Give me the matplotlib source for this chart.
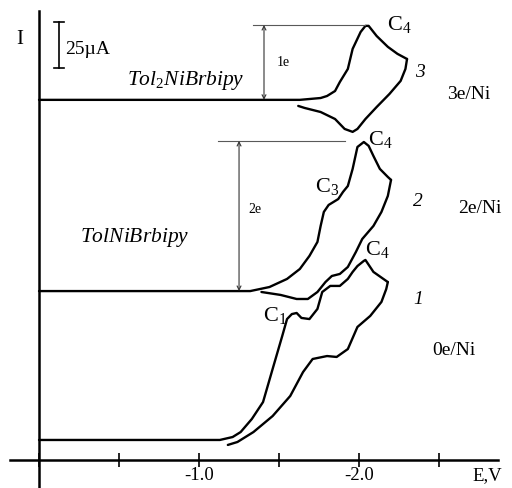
import matplotlib
matplotlib.use("Agg")
import matplotlib.pyplot as plt

plt.rcParams['font.family'] = ['Liberation Serif', 'DejaVu Serif']
plt.rcParams['mathtext.fontset'] = 'custom'
plt.rcParams['mathtext.rm'] = 'Liberation Serif'
plt.rcParams['mathtext.it'] = 'Liberation Serif:italic'

# potential E (V) and current I (uA)
# curve 1 : 0e/Ni (lowest)
E1_fwd = [0.0, -1.13, -1.21, -1.26, -1.33, -1.40, -1.46, -1.52, -1.55, -1.58, -1.61,
          -1.64, -1.69, -1.74, -1.77, -1.82, -1.88, -1.93, -1.96, -1.99, -2.03, -2.04,
          -2.09, -2.18]
I1_fwd = [10.9, 10.9, 12.5, 15.2, 22.3, 31.5, 49.5, 67.4, 76.6, 79.3, 79.9,
          77.2, 76.6, 82.1, 91.3, 94.6, 94.6, 98.4, 102.2, 105.4, 108.2, 108.7,
          102.2, 96.7]
E1_rev = [-2.18, -2.17, -2.14, -2.07, -1.99, -1.93, -1.86, -1.80, -1.71, -1.65, -1.57,
          -1.46, -1.34, -1.24, -1.18]
I1_rev = [96.7, 92.9, 85.9, 78.3, 72.3, 60.3, 56.0, 56.5, 54.9, 47.8, 34.8,
          23.9, 15.2, 9.8, 8.2]

# curve 2 : 2e/Ni (TolNiBrbipy)
E2_fwd = [0.0, -1.32, -1.44, -1.55, -1.63, -1.69, -1.74, -1.76, -1.78, -1.81, -1.84,
          -1.87, -1.90, -1.93, -1.96, -1.99, -2.03, -2.06, -2.09, -2.13, -2.18, -2.20]
I2_fwd = [91.8, 91.8, 94.0, 98.4, 103.8, 110.9, 118.5, 127.2, 134.8, 138.6, 140.2,
          141.8, 145.7, 148.9, 158.2, 170.1, 172.8, 170.7, 165.2, 158.2, 153.8, 152.2]
E2_rev = [-2.20, -2.18, -2.14, -2.09, -2.02, -1.98, -1.93, -1.88, -1.83, -1.79, -1.74,
          -1.68, -1.61, -1.51, -1.39]
I2_rev = [152.2, 143.5, 134.8, 127.2, 120.1, 113.0, 104.9, 101.1, 100.0, 96.7, 91.3,
          87.5, 87.5, 89.7, 91.3]

# curve 3 : 3e/Ni (Tol2NiBrbipy)
E3_fwd = [0.0, -1.63, -1.76, -1.80, -1.85, -1.88, -1.93, -1.96, -2.01, -2.04, -2.06,
          -2.11, -2.18, -2.24, -2.30]
I3_fwd = [195.7, 195.7, 196.7, 197.8, 200.5, 205.4, 212.5, 223.4, 232.6, 235.9, 235.9,
          230.4, 224.5, 220.7, 217.9]
E3_rev = [-2.30, -2.29, -2.26, -2.19, -2.11, -2.04, -1.99, -1.96, -1.91, -1.85, -1.76,
          -1.66, -1.62]
I3_rev = [217.9, 212.5, 206.0, 198.9, 191.8, 185.3, 179.9, 178.3, 179.9, 185.3, 189.1,
          191.3, 192.4]

x_ticks = [0.0, -0.5, -1.0, -1.5, -2.0, -2.5]
x_tick_labels = ['', '', '-1.0', '', '-2.0', '']

fig = plt.figure(figsize=(5.12, 4.89), dpi=100)
ax = fig.add_axes([0, 0, 1, 1])
ax.set_xlim(0.244, -2.956)
ax.set_ylim(-15.2, 250.5)

for E, I in [(E1_fwd, I1_fwd), (E1_rev, I1_rev), (E2_fwd, I2_fwd), (E2_rev, I2_rev),
             (E3_fwd, I3_fwd), (E3_rev, I3_rev)]:
    ax.plot(E, I, color='black', lw=1.7, solid_joinstyle='round', solid_capstyle='round')

# axes through the origin
ax.spines['top'].set_visible(False)
ax.spines['right'].set_visible(False)
ax.spines['left'].set_position(('data', 0))
ax.spines['bottom'].set_position(('data', 0))
ax.spines['left'].set_bounds(-15.2, 244)
ax.spines['bottom'].set_bounds(0.18, -2.87)
ax.spines['left'].set_linewidth(1.8)
ax.spines['bottom'].set_linewidth(1.8)
ax.set_yticks([])
ax.set_xticks(x_ticks)
ax.set_xticklabels(x_tick_labels, fontsize=13.5)
ax.tick_params(axis='x', direction='inout', length=9.5, width=1.2, pad=-0.5)

ax.text(-2.8, -3.3, 'E,V', fontsize=13.5, ha='center', va='top')
ax.text(0.119, 229.0, 'I', fontsize=15, ha='center', va='center')

# 25 uA scale bar
ax.plot([-0.125, -0.125], [213.0, 238.0], color='black', lw=1.2)
ax.plot([-0.095, -0.155], [238.0, 238.0], color='black', lw=1.2)
ax.plot([-0.095, -0.155], [213.0, 213.0], color='black', lw=1.2)
ax.text(-0.16, 223.4, '25µA', fontsize=14, ha='left', va='center')

# electron markers
ax.plot([-1.34, -2.04], [236.4, 236.4], color='0.35', lw=0.8)
ax.annotate('', xy=(-1.406, 236.4), xytext=(-1.406, 195.7),
            arrowprops=dict(arrowstyle='<->', lw=0.8, color='0.2',
                            shrinkA=0, shrinkB=0, mutation_scale=7))
ax.text(-1.525, 216.3, '1e', fontsize=10, ha='center', va='center')

ax.plot([-1.12, -1.91], [173.4, 173.4], color='0.35', lw=0.8)
ax.annotate('', xy=(-1.25, 173.4), xytext=(-1.25, 91.8),
            arrowprops=dict(arrowstyle='<->', lw=0.8, color='0.2',
                            shrinkA=0, shrinkB=0, mutation_scale=7))
ax.text(-1.35, 136.4, '2e', fontsize=10, ha='center', va='center')

# compound names
ax.text(-0.919, 207.0, r'$\mathit{Tol_2NiBrbipy}$', fontsize=15.5, ha='center', va='center')
ax.text(-0.60, 121.2, r'$\mathit{TolNiBrbipy}$', fontsize=15.5, ha='center', va='center')

# peak labels
ax.text(-2.175, 237.0, r'C$_4$', fontsize=16, ha='left', va='center')
ax.text(-2.056, 174.5, r'C$_4$', fontsize=16, ha='left', va='center')
ax.text(-2.0375, 114.7, r'C$_4$', fontsize=16, ha='left', va='center')
ax.text(-1.725, 148.9, r'C$_3$', fontsize=16, ha='left', va='center')
ax.text(-1.40, 79.3, r'C$_1$', fontsize=16, ha='left', va='center')

# curve numbers and electron count
ax.text(-2.381, 210.9, '3', fontsize=14, style='italic', ha='center', va='center')
ax.text(-2.369, 140.8, '2', fontsize=14, style='italic', ha='center', va='center')
ax.text(-2.369, 88.0, '1', fontsize=14, style='italic', ha='center', va='center')
ax.text(-2.55, 198.9, '3e/Ni', fontsize=14, ha='left', va='center')
ax.text(-2.619, 137.0, '2e/Ni', fontsize=14, ha='left', va='center')
ax.text(-2.456, 60.3, '0e/Ni', fontsize=14, ha='left', va='center')

fig.savefig('out.png', dpi=100)
